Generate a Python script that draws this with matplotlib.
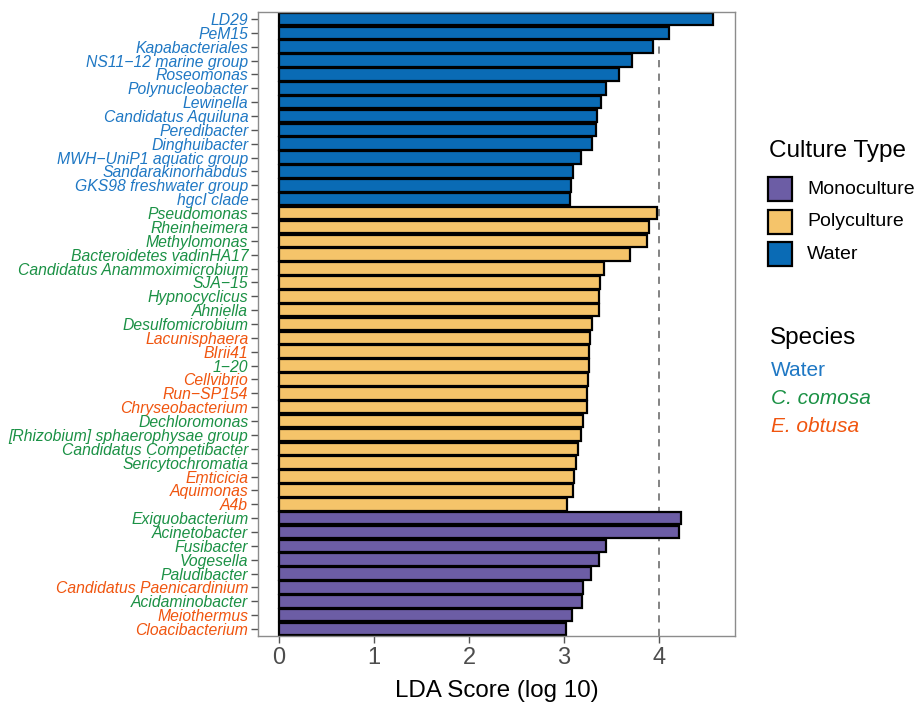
import matplotlib
matplotlib.use("Agg")
import matplotlib.pyplot as plt
from matplotlib.patches import Rectangle

plt.rcParams['font.family'] = ['Liberation Sans', 'DejaVu Sans']

# ---- data (top to bottom) ----
taxa = ["LD29", "PeM15", "Kapabacteriales", "NS11\u221212 marine group", "Roseomonas",
        "Polynucleobacter", "Lewinella", "Candidatus Aquiluna", "Peredibacter", "Dinghuibacter",
        "MWH\u2212UniP1 aquatic group", "Sandarakinorhabdus", "GKS98 freshwater group", "hgcI clade",
        "Pseudomonas", "Rheinheimera", "Methylomonas", "Bacteroidetes vadinHA17",
        "Candidatus Anammoximicrobium", "SJA\u221215", "Hypnocyclicus", "Ahniella",
        "Desulfomicrobium", "Lacunisphaera", "BIrii41", "1\u221220", "Cellvibrio", "Run\u2212SP154",
        "Chryseobacterium", "Dechloromonas", "[Rhizobium] sphaerophysae group",
        "Candidatus Competibacter", "Sericytochromatia", "Emticicia", "Aquimonas", "A4b",
        "Exiguobacterium", "Acinetobacter", "Fusibacter", "Vogesella", "Paludibacter",
        "Candidatus Paenicardinium", "Acidaminobacter", "Meiothermus", "Cloacibacterium"]
lda = [4.57, 4.11, 3.94, 3.72, 3.58, 3.44, 3.39, 3.35, 3.34, 3.29, 3.18, 3.10, 3.07, 3.06,
       3.98, 3.89, 3.87, 3.69, 3.42, 3.38, 3.37, 3.37, 3.29, 3.27, 3.26, 3.26, 3.25, 3.24,
       3.24, 3.20, 3.18, 3.15, 3.13, 3.11, 3.10, 3.03,
       4.23, 4.21, 3.44, 3.37, 3.28, 3.20, 3.19, 3.08, 3.02]
culture = ["Water"] * 14 + ["Polyculture"] * 22 + ["Monoculture"] * 9
species = (["Water"] * 14 +
           ["C. comosa"] * 9 + ["E. obtusa"] * 2 + ["C. comosa"] + ["E. obtusa"] * 3 +
           ["C. comosa"] * 4 + ["E. obtusa"] * 3 +
           ["C. comosa"] * 5 + ["E. obtusa"] + ["C. comosa"] + ["E. obtusa"] * 2)
culture_levels = ["Monoculture", "Polyculture", "Water"]
species_levels = ["Water", "C. comosa", "E. obtusa"]

culture_colors = {"Monoculture": "#6C5DA5", "Polyculture": "#F5C46A", "Water": "#0A6BB5"}
species_colors = {"Water": "#1F78C4", "C. comosa": "#1B9145", "E. obtusa": "#F0550F"}

W, H, DPI = 917, 705, 100
fig = plt.figure(figsize=(W / DPI, H / DPI), dpi=DPI)
ax = fig.add_axes([258 / W, 1 - 636 / H, 477 / W, 624 / H])

n = len(taxa)
ypos = list(range(n - 1, -1, -1))
ax.axvline(4, color="#7a7a7a", ls=(0, (4, 3.5)), lw=1.3, zorder=1)
ax.barh(ypos, lda, height=0.9, color=[culture_colors[c] for c in culture],
        edgecolor="black", linewidth=1.6, zorder=2)

ax.set_xlim(-0.22, 4.8)
ax.set_ylim(-0.5, n - 0.5)
ax.set_yticks(ypos)
ax.set_yticklabels(taxa, fontsize=11.3, style="italic")
for lab, sp in zip(ax.get_yticklabels(), species):
    lab.set_color(species_colors[sp])
ax.set_xticks([0, 1, 2, 3, 4])
ax.tick_params(axis="x", labelsize=17, labelcolor="#4d4d4d", color="#555555",
               length=5, width=1, pad=3)
ax.tick_params(axis="y", color="#555555", length=5, width=1, pad=2)
for s in ax.spines.values():
    s.set_color("#8c8c8c")
    s.set_linewidth(1.0)
ax.set_xlabel("LDA Score (log 10)", fontsize=17.4, labelpad=8)

# ---- legends ----
def fx(px):
    return px / W

def fy(py):
    return 1 - py / H

fig.text(fx(769), fy(151), "Culture Type", fontsize=17.5, va="center", ha="left")
key_y = [189, 222, 254]
for lvl, yy in zip(culture_levels, key_y):
    fig.patches.append(Rectangle((fx(768), fy(yy + 12)), 24 / W, 24 / H,
                                 transform=fig.transFigure, facecolor=culture_colors[lvl],
                                 edgecolor="black", linewidth=1.6))
    fig.text(fx(807), fy(yy), lvl, fontsize=14, va="center", ha="left")

fig.text(fx(770), fy(338), "Species", fontsize=17.5, va="center", ha="left")
for lvl, yy in zip(species_levels, [370, 398, 426]):
    fig.text(fx(771), fy(yy), lvl, fontsize=15, va="center", ha="left",
             color=species_colors[lvl], style=("normal" if lvl == "Water" else "italic"))

fig.savefig("out.png", dpi=DPI)
